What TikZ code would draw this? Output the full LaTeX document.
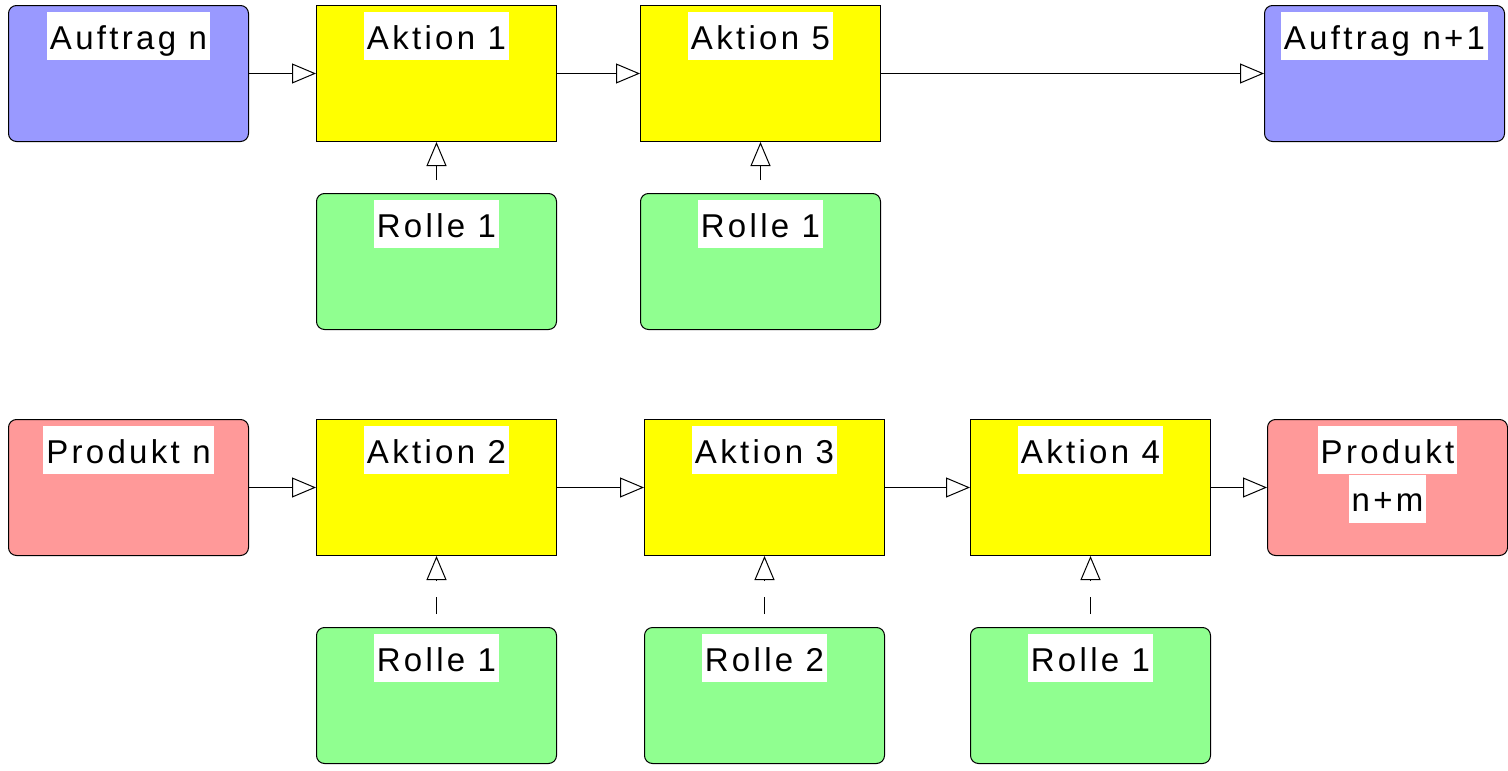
\documentclass[tikz,border=0pt]{standalone}
\usepackage{fontspec}
\setmainfont[LetterSpace=10]{Liberation Sans}
\usetikzlibrary{arrows.meta}
\definecolor{auftragblue}{HTML}{9999FF}
\definecolor{aktionyellow}{HTML}{FFFF00}
\definecolor{rollegreen}{HTML}{90FF90}
\definecolor{produktred}{HTML}{FF9999}
\begin{document}
\begin{tikzpicture}[x=1pt,y=-1pt,
  box/.style={draw, line width=1pt, minimum width=240pt, minimum height=136pt, inner sep=0pt, anchor=north west},
  auftrag/.style={box, rounded corners=8pt, fill=auftragblue},
  aktion/.style={box, fill=aktionyellow},
  rolle/.style={box, rounded corners=8pt, fill=rollegreen},
  produkt/.style={box, rounded corners=8pt, fill=produktred},
  lbl/.style={fill=white, inner xsep=3pt, inner ysep=0pt, text height=37pt, text depth=11pt, font=\fontsize{33pt}{48pt}\selectfont, anchor=north},
  flow/.style={-{Triangle[open,length=24pt,width=20pt]}, line width=1pt},
  uses/.style={flow, shorten <=13pt, dash pattern=on 17pt off 16pt}]
\useasboundingbox (0,0) rectangle (1508,771);
% top row
\node[auftrag] (an) at (8,5) {};
\node[aktion] (k1) at (316,5) {};
\node[aktion] (k5) at (640,5) {};
\node[auftrag] (an1) at (1264,5) {};
\node[rolle] (r1a) at (316,193) {};
\node[rolle] (r1b) at (640,193) {};
% bottom row
\node[produkt] (pn) at (8,419) {};
\node[aktion] (k2) at (316,419) {};
\node[aktion] (k3) at (644,419) {};
\node[aktion] (k4) at (970,419) {};
\node[produkt] (pnm) at (1267,419) {};
\node[rolle] (r1c) at (316,627) {};
\node[rolle] (r2) at (644,627) {};
\node[rolle] (r1d) at (970,627) {};
% labels
\node[lbl] (ant) at ([yshift=-7pt]an.north) {Auftrag n};
\node[lbl] (k1t) at ([yshift=-7pt]k1.north) {Aktion 1};
\node[lbl] (k5t) at ([yshift=-7pt]k5.north) {Aktion 5};
\node[lbl] (an1t) at ([yshift=-7pt]an1.north) {Auftrag n+1};
\node[lbl] (r1at) at ([yshift=-7pt]r1a.north) {Rolle 1};
\node[lbl] (r1bt) at ([yshift=-7pt]r1b.north) {Rolle 1};
\node[lbl] (pnt) at ([yshift=-7pt]pn.north) {Produkt n};
\node[lbl] (k2t) at ([yshift=-7pt]k2.north) {Aktion 2};
\node[lbl] (k3t) at ([yshift=-7pt]k3.north) {Aktion 3};
\node[lbl] (k4t) at ([yshift=-7pt]k4.north) {Aktion 4};
\node[lbl] (pnmt) at ([yshift=-7pt]pnm.north) {Produkt~};
\node[lbl] (pnmt2) at (pnmt.south) {n+m};
\node[lbl] (r1ct) at ([yshift=-7pt]r1c.north) {Rolle 1};
\node[lbl] (r2t) at ([yshift=-7pt]r2.north) {Rolle 2};
\node[lbl] (r1dt) at ([yshift=-7pt]r1d.north) {Rolle 1};
% flows
\draw[flow] (an) -- (k1);
\draw[flow] (k1) -- (k5);
\draw[flow] (k5) -- (an1);
\draw[flow] (pn) -- (k2);
\draw[flow] (k2) -- (k3);
\draw[flow] (k3) -- (k4);
\draw[flow] (k4) -- (pnm);
% roles
\draw[uses] (r1a) -- (k1);
\draw[uses] (r1b) -- (k5);
\draw[uses] (r1c) -- (k2);
\draw[uses] (r2) -- (k3);
\draw[uses] (r1d) -- (k4);
\end{tikzpicture}
\end{document}
